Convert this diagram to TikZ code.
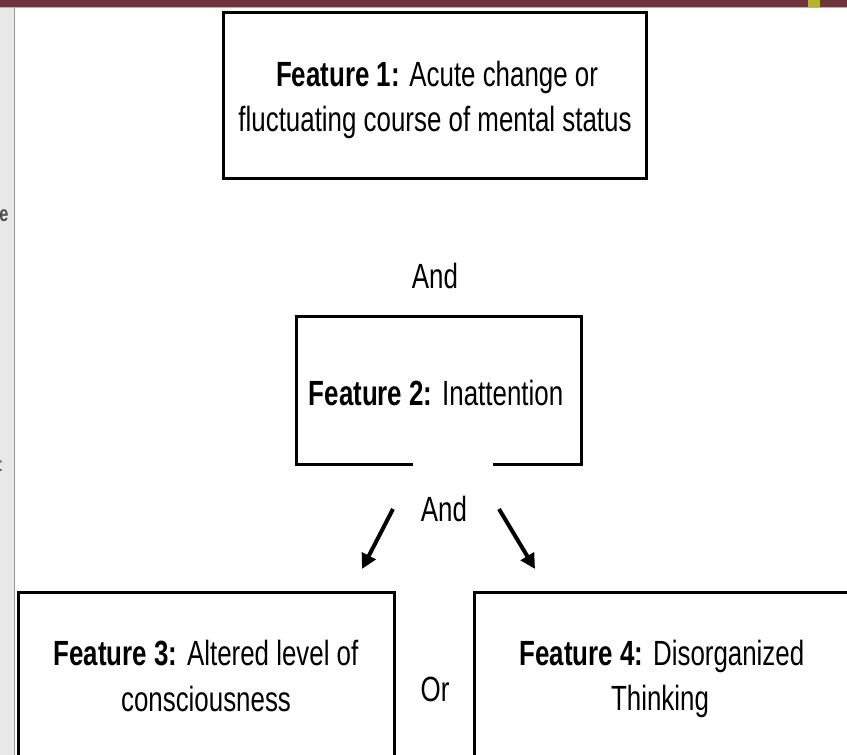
\documentclass[tikz,border=0pt]{standalone}
\usepackage{fontspec}
\setmainfont{Liberation Sans}[FakeStretch=0.74]
\usetikzlibrary{arrows.meta}
\definecolor{barred}{RGB}{111,52,60}
\definecolor{baryel}{RGB}{180,180,40}
\definecolor{stripgray}{RGB}{232,232,232}
\tikzset{
  x=1pt,y=1pt,
  boxline/.style={draw=black,line width=3pt},
  lbl/.style={font=\fontsize{35}{45}\selectfont,inner sep=0pt,anchor=base},
  arr/.style={line width=4pt,-{Triangle[length=15pt,width=15pt]}}
}
\begin{document}
\begin{tikzpicture}
\useasboundingbox (0,0) rectangle (847,-755);
\clip (0,0) rectangle (847,-755);
\fill[white] (0,0) rectangle (847,-755);
% browser chrome
\fill[stripgray] (0,-7) rectangle (14,-755);
\draw[gray!80,line width=1.2pt] (14.5,-7) -- (14.5,-755);
\fill[barred] (0,0) rectangle (847,-7);
\fill[baryel] (808,0) rectangle (820,-7);
\draw[gray!60,line width=1pt] (0,-7.5) -- (847,-7.5);
\node[font=\fontsize{22}{22}\selectfont\bfseries,text=black!70,anchor=center] (ce) at (4,-216) {e};
\node[font=\fontsize{20}{20}\selectfont,text=black!70,anchor=center] (cc) at (1,-466) {:};
% box 1
\draw[boxline] (223,-12) rectangle (646,-178);
\node[lbl] (t1a) at (437,-86) {\textbf{Feature 1:} Acute change or};
\node[lbl] (t1b) at (435,-131) {fluctuating course of mental status};
\node[lbl] (and1) at (435,-288) {And};
% box 2
\draw[boxline] (413,-464) -- (296,-464) -- (296,-316) -- (581,-316) -- (581,-464) -- (493,-464);
\node[lbl] (t2) at (436,-405) {\textbf{Feature 2:} Inattention};
\node[lbl] (and2) at (444,-521) {And};
\coordinate (a1s) at (393,-509);
\coordinate (a1e) at (362,-569);
\coordinate (a2s) at (499,-509);
\coordinate (a2e) at (535,-569);
\draw[arr] (a1s) -- (a1e);
\draw[arr] (a2s) -- (a2e);
% box 3
\draw[boxline] (18,-780) -- (18,-592) -- (394,-592) -- (394,-780);
\node[lbl] (t3a) at (206,-665) {\textbf{Feature 3:} Altered level of};
\node[lbl] (t3b) at (206,-711) {consciousness};
\node[lbl] (or) at (435,-701) {Or};
% box 4
\draw[boxline] (474,-780) -- (474,-592) -- (870,-592);
\node[lbl] (t4a) at (662,-665) {\textbf{Feature 4:} Disorganized};
\node[lbl] (t4b) at (660,-710) {Thinking};
\end{tikzpicture}
\end{document}
